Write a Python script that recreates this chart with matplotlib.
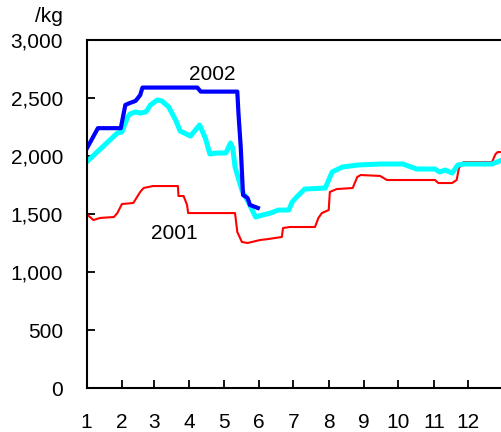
import numpy as np
import matplotlib
matplotlib.use("Agg")
import matplotlib.pyplot as plt

plt.rcParams['font.family'] = ['Liberation Sans', 'DejaVu Sans']

# x = day of year (0 = Jan 1), y = price per kg
day_2001 = [0, 6, 12, 24, 27, 31, 41, 47, 50, 58, 80, 80.5, 85, 88, 89, 130, 132, 136, 141,
            152, 159, 171, 172, 178, 200, 203, 206, 212, 213, 219, 233, 237, 240, 257, 263,
            305, 308, 320, 324, 326, 330, 355, 358, 360, 365]
val_2001 = [1500, 1448, 1466, 1474, 1508, 1586, 1595, 1690, 1724, 1741, 1741, 1655, 1655, 1578,
            1508, 1508, 1345, 1259, 1250, 1276, 1284, 1302, 1379, 1388, 1388, 1466, 1508, 1534,
            1690, 1715, 1724, 1819, 1836, 1828, 1793, 1793, 1767, 1767, 1793, 1897, 1948, 1948,
            2017, 2034, 2034]

day_avg = [0, 27, 31, 36, 38, 43, 47, 52, 56, 62, 66, 72, 78, 82, 91, 99, 104, 108, 114, 122,
           126, 128, 130, 136, 142, 148, 154, 161, 168, 177, 180, 184, 191, 209, 212, 215, 224,
           237, 257, 277, 289, 305, 309, 314, 320, 325, 330, 355, 365]
val_avg = [1948, 2198, 2207, 2336, 2362, 2380, 2370, 2380, 2440, 2483, 2474, 2422, 2310, 2215,
           2172, 2267, 2155, 2017, 2026, 2026, 2112, 2069, 1905, 1707, 1595, 1474, 1491, 1508,
           1534, 1534, 1603, 1647, 1715, 1724, 1793, 1862, 1905, 1922, 1931, 1931, 1888, 1888,
           1862, 1879, 1853, 1922, 1931, 1931, 1970]

day_2002 = [0, 10, 30, 34, 38, 43, 47, 49, 97, 100, 132, 133, 135, 137, 141, 143, 150]
val_2002 = [2060, 2240, 2240, 2440, 2457, 2475, 2525, 2590, 2590, 2555, 2555, 2370, 2078, 1664,
            1638, 1578, 1552]

month_start = [0, 31, 59, 90, 120, 151, 181, 212, 243, 273, 304, 334]
month_labels = [str(m) for m in range(1, 13)]
y_ticks = [0, 500, 1000, 1500, 2000, 2500, 3000]

fig = plt.figure(figsize=(5.02, 4.32), dpi=100)
ax = fig.add_axes([86.5 / 502, 44 / 432, 417 / 502, 348 / 432])

ax.plot(day_2001, val_2001, color='#ff0000', lw=1.5)
ax.plot(day_avg, val_avg, color='#00ffff', lw=3.6, solid_joinstyle='round')
ax.plot(day_2002, val_2002, color='#0000ff', lw=3.0, solid_joinstyle='round')

ax.set_xlim(0, 365)
ax.set_ylim(0, 3000)
ax.set_xticks(month_start)
ax.set_xticklabels(month_labels)
ax.set_yticks(y_ticks)
ax.set_yticklabels([f"{v:,}" for v in y_ticks])
ax.tick_params(axis='both', direction='in', length=6, width=1.3, labelsize=15, color='black')
ax.tick_params(axis='y', pad=17)
ax.tick_params(axis='x', pad=18)
for s in ax.spines.values():
    s.set_linewidth(1.5)

ax.text(110, 2700, '2002', fontsize=15, ha='center', va='center')
ax.text(77, 1330, '2001', fontsize=15, ha='center', va='center')
fig.text(63 / 502, (432 - 22) / 432, '/kg', fontsize=15, ha='right', va='baseline')

fig.savefig('out.png', dpi=100)
